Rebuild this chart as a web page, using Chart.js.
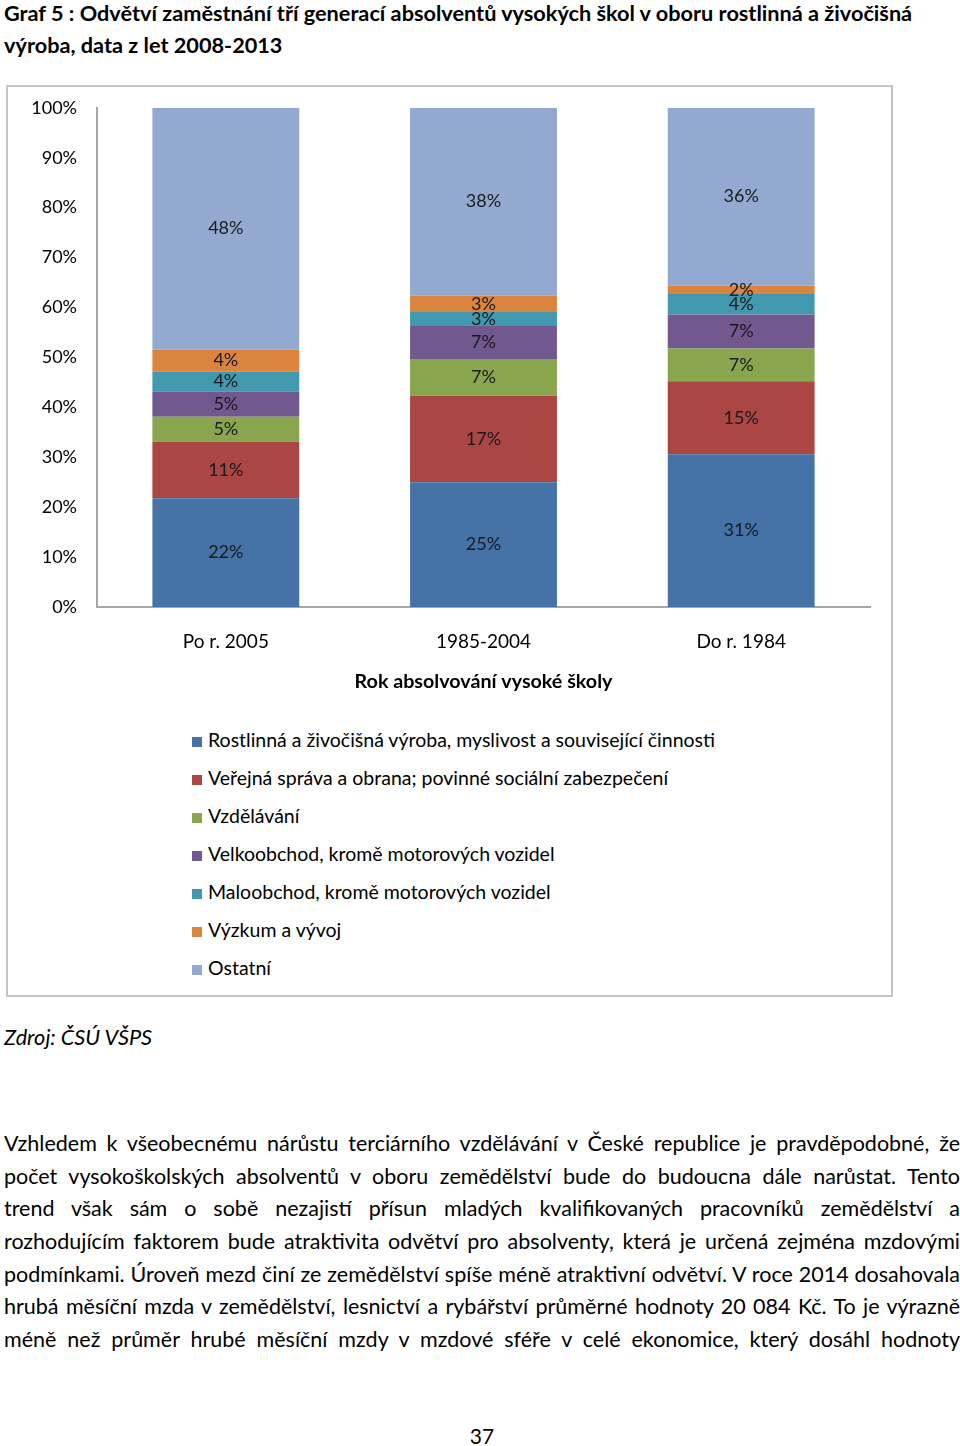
<!DOCTYPE html>
<html>
<head>
    <meta charset="UTF-8">
    <title>Graf 5</title>
    <script src="https://cdn.jsdelivr.net/npm/chart.js@4/dist/chart.umd.min.js"></script>
    <style>
        body { margin: 0; background: #fff; font-family: Lato, sans-serif; color: #000; }
        .page { position: relative; width: 960px; height: 1446px; overflow: hidden; }
        .title { position: absolute; left: 4px; top: -3px; font-weight: bold; font-size: 21.7px; line-height: 32px; white-space: nowrap; }
        .box { position: absolute; left: 6px; top: 85px; width: 883px; height: 908px; border: 2px solid #c4c4c4; }
        #chart { position: absolute; left: 0; top: -10px; }
        #legend { position: absolute; left: 184px; top: 639px; font-size: 19.5px; }
        #legend div { height: 38px; line-height: 28px; white-space: nowrap; }
        #legend span { display: inline-block; width: 10px; height: 10px; margin-right: 6px; vertical-align: 0px; }
        .src { position: absolute; left: 4px; top: 1024px; font-style: italic; font-size: 21.7px; }
        .para { position: absolute; left: 4px; top: 1130px; width: 956px; font-size: 21.5px; }
        .para div { height: 32.7px; text-align: justify; text-align-last: justify; white-space: nowrap; }
        .num { position: absolute; left: 0; width: 964px; top: 1423px; text-align: center; font-size: 21px; }
    </style>
</head>
<body>
<div class="page">
    <div class="title">Graf 5 : Odvětví zaměstnání tří generací absolventů vysokých škol v oboru rostlinná a živočišná<br>výroba, data z let 2008-2013</div>
    <div class="box">
        <canvas id="chart" width="883" height="625"></canvas>
        <div id="legend"></div>
    </div>
    <div class="src">Zdroj: ČSÚ VŠPS</div>
    <div class="para">
        <div>Vzhledem k všeobecnému nárůstu terciárního vzdělávání v České republice je pravděpodobné, že</div>
        <div>počet vysokoškolských absolventů v oboru zemědělství bude do budoucna dále narůstat.  Tento</div>
        <div>trend však sám o sobě nezajistí přísun mladých kvalifikovaných pracovníků zemědělství a</div>
        <div>rozhodujícím faktorem bude atraktivita odvětví pro absolventy, která je určená zejména mzdovými</div>
        <div>podmínkami. Úroveň mezd činí ze zemědělství spíše méně atraktivní odvětví. V roce 2014 dosahovala</div>
        <div>hrubá měsíční mzda v zemědělství, lesnictví a rybářství průměrné hodnoty 20 084 Kč. To je výrazně</div>
        <div>méně než průměr hrubé měsíční mzdy v mzdové sféře v celé ekonomice, který dosáhl hodnoty</div>
    </div>
    <div class="num">37</div>
</div>
<script>
    // kategorie: rok absolvování
    let categories = ["Po r. 2005", "1985-2004", "Do r. 1984"];

    // podíly v %
    let rostlinna = [21.8, 25.0, 30.6];
    let verejna = [11.3, 17.3, 14.6];
    let vzdelavani = [5.0, 7.4, 6.6];
    let velkoobchod = [5.0, 6.6, 6.8];
    let maloobchod = [4.1, 2.8, 4.1];
    let vyzkum = [4.4, 3.3, 1.7];
    let ostatni = [48.4, 37.6, 35.6];

    let yTicks = [0, 10, 20, 30, 40, 50, 60, 70, 80, 90, 100];

    let series = [
        { label: "Rostlinná a živočišná výroba, myslivost a související činnosti", data: rostlinna, color: "#4572A7" },
        { label: "Veřejná správa a obrana; povinné sociální zabezpečení", data: verejna, color: "#AA4643" },
        { label: "Vzdělávání", data: vzdelavani, color: "#89A54E" },
        { label: "Velkoobchod, kromě motorových vozidel", data: velkoobchod, color: "#71588F" },
        { label: "Maloobchod, kromě motorových vozidel", data: maloobchod, color: "#4198AF" },
        { label: "Výzkum a vývoj", data: vyzkum, color: "#DB843D" },
        { label: "Ostatní", data: ostatni, color: "#93A9CF" }
    ];

    const barLabels = {
        id: 'barLabels',
        afterDatasetsDraw(chart) {
            const ctx = chart.ctx;
            ctx.save();
            ctx.font = "18px Lato";
            ctx.fillStyle = "#1a1a1a";
            ctx.textAlign = "center";
            ctx.textBaseline = "middle";
            chart.data.datasets.forEach((ds, i) => {
                chart.getDatasetMeta(i).data.forEach((bar, j) => {
                    ctx.fillText(Math.round(ds.data[j]) + "%", bar.x, (bar.y + bar.base) / 2);
                });
            });
            ctx.restore();
        }
    };

    const chart = new Chart(document.getElementById("chart"), {
        type: 'bar',
        data: {
            labels: categories,
            datasets: series.map(s => ({
                label: s.label,
                data: s.data,
                backgroundColor: s.color,
                borderWidth: 0,
                barPercentage: 0.57,
                categoryPercentage: 1
            }))
        },
        options: {
            responsive: false,
            animation: false,
            layout: { padding: { top: 10, right: 21, left: 0, bottom: 0 } },
            plugins: { legend: { display: false }, tooltip: { enabled: false } },
            scales: {
                x: {
                    stacked: true,
                    grid: { display: false, drawTicks: false },
                    border: { color: "#a6a6a6", width: 2 },
                    ticks: { color: "#000", font: { family: "Lato", size: 19 }, padding: 23 },
                    title: {
                        display: true,
                        text: "Rok absolvování vysoké školy",
                        color: "#000",
                        font: { family: "Lato", size: 19.7, weight: "bold" },
                        padding: { top: 0, bottom: 9 }
                    },
                    afterFit(scale) { scale.height = 95; }
                },
                y: {
                    stacked: true,
                    min: 0,
                    max: 100,
                    grid: { display: false, drawTicks: false },
                    border: { color: "#a6a6a6", width: 2 },
                    afterBuildTicks(scale) { scale.ticks = yTicks.map(v => ({ value: v })); },
                    ticks: {
                        color: "#000",
                        font: { family: "Lato", size: 18 },
                        padding: 20,
                        callback: v => v + "%"
                    },
                    afterFit(scale) { scale.width = 89; }
                }
            }
        },
        plugins: [barLabels]
    });

    // legenda pod grafem, jedna položka na řádek
    const legend = document.getElementById("legend");
    chart.data.datasets.forEach(ds => {
        const row = document.createElement("div");
        row.innerHTML = '<span style="background:' + ds.backgroundColor + '"></span>' + ds.label;
        legend.appendChild(row);
    });
</script>
</body>
</html>
